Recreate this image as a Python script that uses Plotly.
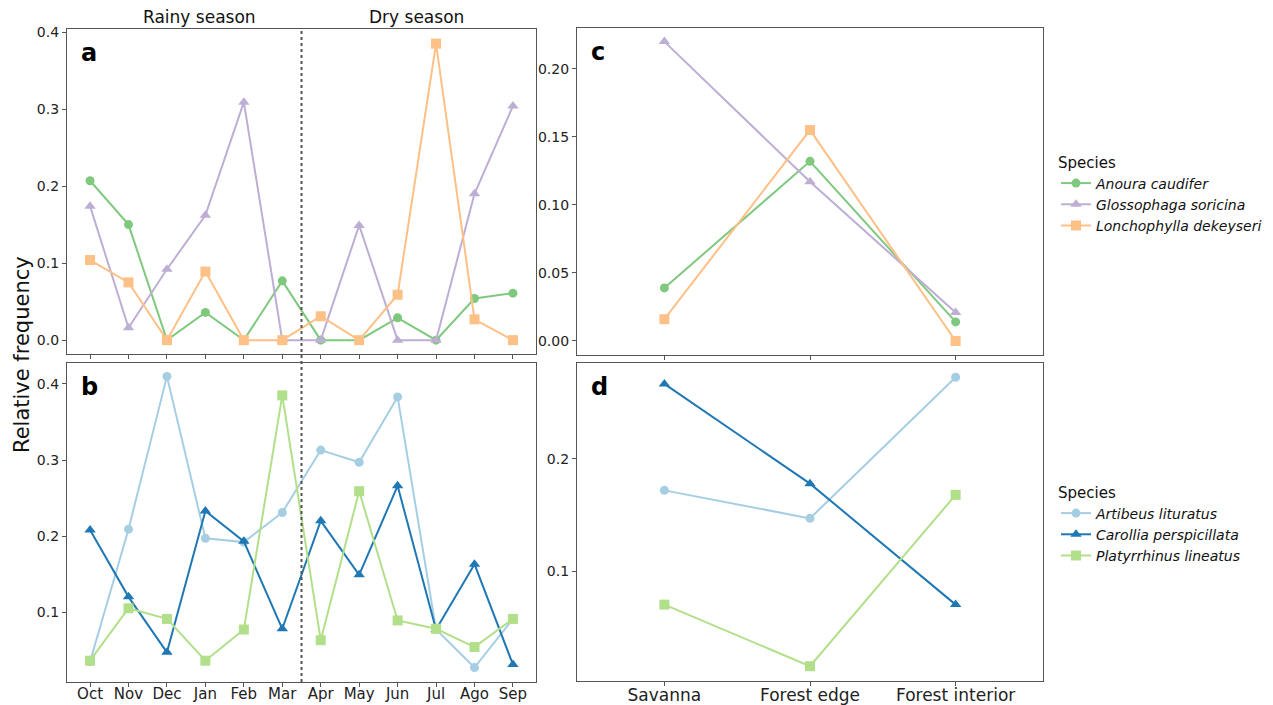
import plotly.graph_objects as go

months = ["Oct", "Nov", "Dec", "Jan", "Feb", "Mar", "Apr", "May", "Jun", "Jul", "Ago", "Sep"]
habitats = ["Savanna", "Forest edge", "Forest interior"]

# Panel a (nectarivores by month)
anoura_m = [0.207, 0.150, 0.0, 0.036, 0.0, 0.077, 0.0, 0.0, 0.029, 0.0, 0.054, 0.061]
glosso_m = [0.174, 0.016, 0.092, 0.162, 0.309, 0.0, 0.0, 0.149, 0.0, 0.0, 0.190, 0.304]
loncho_m = [0.104, 0.075, 0.0, 0.089, 0.0, 0.0, 0.031, 0.0, 0.059, 0.385, 0.027, 0.0]

# Panel b (frugivores by month)
artibeus_m = [0.035, 0.209, 0.410, 0.197, 0.192, 0.231, 0.313, 0.297, 0.383, 0.077, 0.027, 0.091]
carollia_m = [0.208, 0.120, 0.047, 0.233, 0.193, 0.078, 0.220, 0.149, 0.266, 0.077, 0.163, 0.031]
platy_m = [0.036, 0.105, 0.091, 0.036, 0.077, 0.385, 0.063, 0.259, 0.089, 0.078, 0.054, 0.091]

# Panel c (nectarivores by habitat)
anoura_h = [0.039, 0.132, 0.014]
glosso_h = [0.220, 0.117, 0.021]
loncho_h = [0.016, 0.155, 0.0]

# Panel d (frugivores by habitat)
artibeus_h = [0.172, 0.147, 0.273]
carollia_h = [0.267, 0.178, 0.070]
platy_h = [0.070, 0.015, 0.168]

C_ANO, C_GLO, C_LON = "#7fc97f", "#beaed4", "#fdc086"
C_ART, C_CAR, C_PLA = "#a6cee3", "#1f78b4", "#b2df8a"

fig = go.Figure()

def add(x, y, name, color, symbol, xa, ya, legend, show):
    fig.add_trace(go.Scatter(
        x=x, y=y, mode="lines+markers", name=name,
        line=dict(color=color, width=2),
        marker=dict(color=color, symbol=symbol, size=10 if symbol != "circle" else 9),
        xaxis=xa, yaxis=ya, legend=legend, showlegend=show))

add(months, anoura_m, "<i>Anoura caudifer</i>", C_ANO, "circle", "x", "y", "legend", True)
add(months, glosso_m, "<i>Glossophaga soricina</i>", C_GLO, "triangle-up", "x", "y", "legend", True)
add(months, loncho_m, "<i>Lonchophylla dekeyseri</i>", C_LON, "square", "x", "y", "legend", True)

add(months, artibeus_m, "<i>Artibeus lituratus</i>", C_ART, "circle", "x2", "y2", "legend2", True)
add(months, carollia_m, "<i>Carollia perspicillata</i>", C_CAR, "triangle-up", "x2", "y2", "legend2", True)
add(months, platy_m, "<i>Platyrrhinus lineatus</i>", C_PLA, "square", "x2", "y2", "legend2", True)

add(habitats, anoura_h, "Anoura", C_ANO, "circle", "x3", "y3", "legend", False)
add(habitats, glosso_h, "Glossophaga", C_GLO, "triangle-up", "x3", "y3", "legend", False)
add(habitats, loncho_h, "Lonchophylla", C_LON, "square", "x3", "y3", "legend", False)

add(habitats, artibeus_h, "Artibeus", C_ART, "circle", "x4", "y4", "legend2", False)
add(habitats, carollia_h, "Carollia", C_CAR, "triangle-up", "x4", "y4", "legend2", False)
add(habitats, platy_h, "Platyrrhinus", C_PLA, "square", "x4", "y4", "legend2", False)

W, H = 1273, 705
def xd(l, r):
    return [l / W, r / W]
def yd(t, b):
    return [1 - b / H, 1 - t / H]

def ax(size=14, **kw):
    d = dict(showline=True, mirror=True, linecolor="#555", linewidth=1.3,
             ticks="outside", ticklen=4, tickcolor="#555", showgrid=False,
             zeroline=False, automargin=False,
             tickfont=dict(family="DejaVu Sans", size=size, color="#222"))
    d.update(kw)
    return d

fig.update_layout(
    width=W, height=H, margin=dict(l=0, r=0, t=0, b=0, autoexpand=False),
    plot_bgcolor="white", paper_bgcolor="white",
    font=dict(family="DejaVu Sans", color="#111"),
    xaxis=ax(domain=xd(67, 536), anchor="y", range=[-0.6, 11.6], showticklabels=False),
    yaxis=ax(domain=yd(29, 354), anchor="x", range=[-0.018, 0.404], tickvals=[0, 0.1, 0.2, 0.3, 0.4],
             ticktext=["0.0", "0.1", "0.2", "0.3", "0.4"]),
    xaxis2=ax(size=15, domain=xd(67, 536), anchor="y2", range=[-0.6, 11.6], ticklabelstandoff=-6),
    yaxis2=ax(domain=yd(363, 682), anchor="x2", range=[0.008, 0.4276], tickvals=[0.1, 0.2, 0.3, 0.4],
              ticktext=["0.1", "0.2", "0.3", "0.4"]),
    xaxis3=ax(domain=xd(577, 1043), anchor="y3", range=[-0.6, 2.6], showticklabels=False),
    yaxis3=ax(domain=yd(28, 355), anchor="x3", range=[-0.0103, 0.230], tickvals=[0, 0.05, 0.1, 0.15, 0.2],
              ticktext=["0.00", "0.05", "0.10", "0.15", "0.20"]),
    xaxis4=ax(size=17, domain=xd(577, 1043), anchor="y4", range=[-0.6, 2.6], ticklabelstandoff=-6),
    yaxis4=ax(domain=yd(363, 681), anchor="x4", range=[0.0018, 0.2857], tickvals=[0.1, 0.2],
              ticktext=["0.1", "0.2"]),
    legend=dict(x=1056 / W, y=1 - 148 / H, xanchor="left", yanchor="top",
                title=dict(text="Species", font=dict(size=15)), font=dict(size=14),
                bgcolor="rgba(0,0,0,0)", tracegroupgap=0, itemwidth=30),
    legend2=dict(x=1056 / W, y=1 - 478 / H, xanchor="left", yanchor="top",
                 title=dict(text="Species", font=dict(size=15)), font=dict(size=14),
                 bgcolor="rgba(0,0,0,0)", tracegroupgap=0, itemwidth=30),
)

# dotted season separator spanning panels a and b
fig.add_shape(type="line", xref="x", yref="paper", x0=5.5, x1=5.5, y0=1 - 682 / H, y1=1 - 29 / H,
              line=dict(color="#555", width=2, dash="dot"))

ann = [
    dict(text="Rainy season", x=2.85, xref="x", y=1 - 17 / H, yref="paper", font=dict(size=17)),
    dict(text="Dry season", x=8.5, xref="x", y=1 - 17 / H, yref="paper", font=dict(size=17)),
    dict(text="Relative frequency", x=22 / W, xref="paper", y=1 - 355 / H, yref="paper",
         textangle=-90, font=dict(size=21)),
]
for a in ann:
    fig.add_annotation(showarrow=False, xanchor="center", yanchor="middle", **a)

for lab, xr, yr in [("a", "x", "y"), ("b", "x2", "y2"), ("c", "x3", "y3"), ("d", "x4", "y4")]:
    fig.add_annotation(text="<b>%s</b>" % lab, xref=xr + " domain", yref=yr + " domain",
                       x=0.025, y=0.975, xanchor="left", yanchor="top", showarrow=False,
                       font=dict(size=24, color="black"))

fig.write_html("out.html")
